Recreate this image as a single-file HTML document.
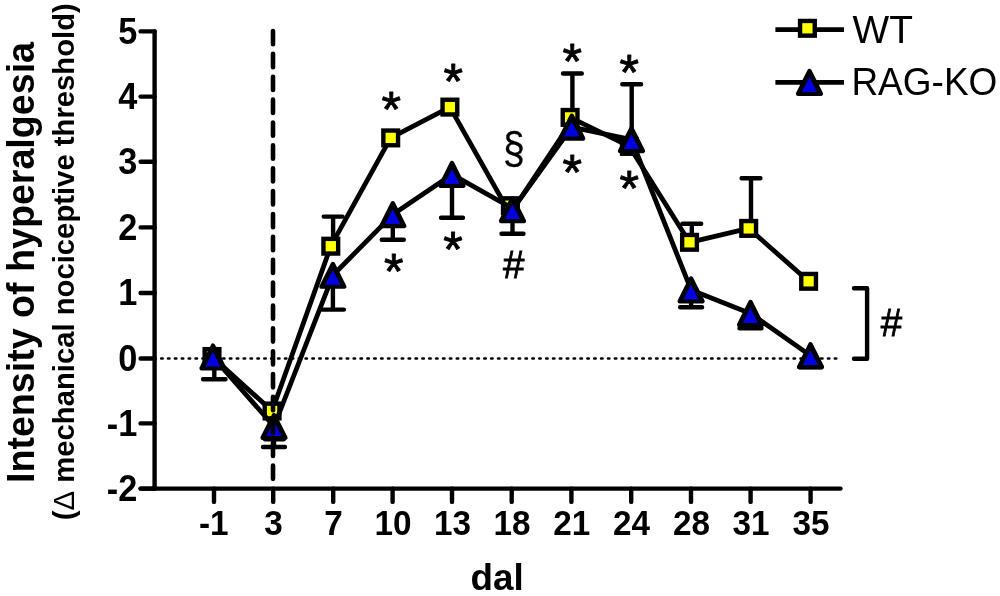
<!DOCTYPE html>
<html lang="en"><head><meta charset="utf-8"><title>Intensity of hyperalgesia</title>
<style>html,body{margin:0;padding:0;background:#fff}body{width:1000px;height:596px;overflow:hidden}svg{display:block}text{font-family:"Liberation Sans",Arial,sans-serif;fill:#000}.b{font-weight:bold}</style>
</head><body>
<svg width="1000" height="596" viewBox="0 0 1000 596">
<rect width="1000" height="596" fill="#fff"/>
<line x1="154.33" y1="358.5" x2="836.5" y2="358.5" stroke="#000" stroke-width="2.6" stroke-linecap="round" stroke-dasharray="1.4 5.474"/>
<g stroke="#000" stroke-width="4.4" stroke-linecap="round" fill="none">
<path d="M154.6 31.4V488.6"/>
<path d="M140.6 488.6H840.5"/>
<path d="M140.6 31.4H154.6"/>
<path d="M140.6 96.6H154.6"/>
<path d="M140.6 161.7H154.6"/>
<path d="M140.6 227.4H154.6"/>
<path d="M140.6 293.0H154.6"/>
<path d="M140.6 358.5H154.6"/>
<path d="M140.6 423.4H154.6"/>
<path d="M140.6 488.6H154.6"/>
<path d="M214 488.6V501.9"/>
<path d="M273.2 488.6V501.9"/>
<path d="M333.2 488.6V501.9"/>
<path d="M392.6 488.6V501.9"/>
<path d="M452.0 488.6V501.9"/>
<path d="M511.7 488.6V501.9"/>
<path d="M571.4 488.6V501.9"/>
<path d="M631.2 488.6V501.9"/>
<path d="M691.0 488.6V501.9"/>
<path d="M750.6 488.6V501.9"/>
<path d="M810.6 488.6V501.9"/>
</g>
<g class="b" font-size="34.3" text-anchor="end">
<text transform="translate(137.3 43.6) scale(1 1.07)">5</text>
<text transform="translate(137.3 108.8) scale(1 1.07)">4</text>
<text transform="translate(137.3 173.9) scale(1 1.07)">3</text>
<text transform="translate(137.3 239.6) scale(1 1.07)">2</text>
<text transform="translate(137.3 305.2) scale(1 1.07)">1</text>
<text transform="translate(137.3 370.7) scale(1 1.07)">0</text>
<text transform="translate(137.3 435.6) scale(1 1.07)">-1</text>
<text transform="translate(137.3 500.8) scale(1 1.07)">-2</text>
</g>
<g class="b" font-size="33.3" text-anchor="middle">
<text transform="translate(213.7 534.7) scale(1 1.07)">-1</text>
<text transform="translate(273.6 534.7) scale(1 1.07)">3</text>
<text transform="translate(333.6 534.7) scale(1 1.07)">7</text>
<text transform="translate(393.0 534.7) scale(1 1.07)">10</text>
<text transform="translate(452.4 534.7) scale(1 1.07)">13</text>
<text transform="translate(512.1 534.7) scale(1 1.07)">18</text>
<text transform="translate(571.8 534.7) scale(1 1.07)">21</text>
<text transform="translate(631.6 534.7) scale(1 1.07)">24</text>
<text transform="translate(691.4 534.7) scale(1 1.07)">28</text>
<text transform="translate(751.0 534.7) scale(1 1.07)">31</text>
<text transform="translate(811.0 534.7) scale(1 1.07)">35</text>
</g>
<text class="b" font-size="36.8" x="470.5" y="590.2">dal</text>
<text class="b" font-size="38" transform="translate(33.8 483) rotate(-90)" textLength="441" lengthAdjust="spacingAndGlyphs">Intensity of hyperalgesia</text>
<text class="b" font-size="29.5" transform="translate(74.2 520.2) rotate(-90)" textLength="517" lengthAdjust="spacingAndGlyphs">(<tspan font-weight="normal">Δ</tspan> mechanical nociceptive threshold)</text>
<g id="wt">
<path d="M214.30 357.80V379.30M203.10 379.30H225.50" fill="none" stroke="#000" stroke-width="4.4" stroke-linecap="round"/>
<path d="M274.40 412.30V439.20M265.00 439.20H283.80" fill="none" stroke="#000" stroke-width="4.4" stroke-linecap="round"/>
<path d="M333.10 247.50V216.60M323.70 216.60H342.50" fill="none" stroke="#000" stroke-width="4.4" stroke-linecap="round"/>
<path d="M572.40 118.70V73.50M563.00 73.50H581.80" fill="none" stroke="#000" stroke-width="4.4" stroke-linecap="round"/>
<path d="M631.70 147.70V84.20M622.30 84.20H641.10" fill="none" stroke="#000" stroke-width="4.4" stroke-linecap="round"/>
<path d="M691.80 243.60V223.70M682.40 223.70H701.20" fill="none" stroke="#000" stroke-width="4.4" stroke-linecap="round"/>
<path d="M751.00 229.70V178.20M741.60 178.20H760.40" fill="none" stroke="#000" stroke-width="4.4" stroke-linecap="round"/>
<path d="M212.00 356.50L272.10 411.00M272.10 411.00L330.80 246.20M330.80 246.20L390.70 137.90M390.70 137.90L449.90 107.10M449.90 107.10L508.00 210.00M512.30 210.50L574.40 117.40M570.10 117.40L629.40 146.40M629.40 146.40L689.50 242.30M689.50 242.30L748.70 228.40M748.70 228.40L808.60 281.30" fill="none" stroke="#000" stroke-width="4.8" stroke-linecap="round"/>
<rect x="204.65" y="349.15" width="14.7" height="14.7" fill="#ffff00" stroke="#000" stroke-width="4.4" stroke-linejoin="miter"/>
<rect x="264.75" y="403.65" width="14.7" height="14.7" fill="#ffff00" stroke="#000" stroke-width="4.4" stroke-linejoin="miter"/>
<rect x="323.45" y="238.85" width="14.7" height="14.7" fill="#ffff00" stroke="#000" stroke-width="4.4" stroke-linejoin="miter"/>
<rect x="383.35" y="130.55" width="14.7" height="14.7" fill="#ffff00" stroke="#000" stroke-width="4.4" stroke-linejoin="miter"/>
<rect x="442.55" y="99.75" width="14.7" height="14.7" fill="#ffff00" stroke="#000" stroke-width="4.4" stroke-linejoin="miter"/>
<rect x="503.05" y="198.35" width="14.7" height="14.7" fill="#ffff00" stroke="#000" stroke-width="4.4" stroke-linejoin="miter"/>
<rect x="562.75" y="110.05" width="14.7" height="14.7" fill="#ffff00" stroke="#000" stroke-width="4.4" stroke-linejoin="miter"/>
<rect x="622.05" y="139.05" width="14.7" height="14.7" fill="#ffff00" stroke="#000" stroke-width="4.4" stroke-linejoin="miter"/>
<rect x="682.15" y="234.95" width="14.7" height="14.7" fill="#ffff00" stroke="#000" stroke-width="4.4" stroke-linejoin="miter"/>
<rect x="741.35" y="221.05" width="14.7" height="14.7" fill="#ffff00" stroke="#000" stroke-width="4.4" stroke-linejoin="miter"/>
<rect x="801.25" y="273.95" width="14.7" height="14.7" fill="#ffff00" stroke="#000" stroke-width="4.4" stroke-linejoin="miter"/>
</g>
<g id="rag">
<path d="M274.00 426.50V447.00M263.00 447.00H285.00" fill="none" stroke="#000" stroke-width="4.4" stroke-linecap="round"/>
<path d="M332.90 275.30V309.60M321.90 309.60H343.90" fill="none" stroke="#000" stroke-width="4.4" stroke-linecap="round"/>
<path d="M392.80 214.60V239.80M381.80 239.80H403.80" fill="none" stroke="#000" stroke-width="4.4" stroke-linecap="round"/>
<path d="M452.00 174.40V217.70M441.00 217.70H463.00" fill="none" stroke="#000" stroke-width="4.4" stroke-linecap="round"/>
<path d="M512.50 209.60V233.70M501.50 233.70H523.50" fill="none" stroke="#000" stroke-width="4.4" stroke-linecap="round"/>
<path d="M691.10 289.90V307.30M680.10 307.30H702.10" fill="none" stroke="#000" stroke-width="4.4" stroke-linecap="round"/>
<path d="M750.50 313.40V328.20M739.50 328.20H761.50" fill="none" stroke="#000" stroke-width="4.4" stroke-linecap="round"/>
<path d="M810.50 355.60V367.30M799.50 367.30H821.50" fill="none" stroke="#000" stroke-width="4.4" stroke-linecap="round"/>
<path d="M213.00 357.00L274.00 426.50M274.00 426.50L332.90 275.30M332.90 275.30L392.80 214.60M392.80 214.60L452.00 174.40M452.00 174.40L511.70 208.00M512.50 209.60L571.80 127.10M571.80 127.10L631.50 139.60M631.50 139.60L691.10 289.90M691.10 289.90L750.50 313.40M750.50 313.40L810.50 355.60" fill="none" stroke="#000" stroke-width="4.8" stroke-linecap="round"/>
<path d="M213.00 345.65L224.40 368.35H201.60Z" fill="#000" stroke="#000" stroke-width="4.4" stroke-linejoin="round"/><path d="M212.90 351.70L220.50 366.50H205.30Z" fill="#0000e0"/>
<path d="M274.00 415.15L285.40 437.85H262.60Z" fill="#000" stroke="#000" stroke-width="4.4" stroke-linejoin="round"/><path d="M273.90 421.20L281.50 436.00H266.30Z" fill="#0000e0"/>
<path d="M332.90 263.95L344.30 286.65H321.50Z" fill="#000" stroke="#000" stroke-width="4.4" stroke-linejoin="round"/><path d="M332.80 270.00L340.40 284.80H325.20Z" fill="#0000e0"/>
<path d="M392.80 203.25L404.20 225.95H381.40Z" fill="#000" stroke="#000" stroke-width="4.4" stroke-linejoin="round"/><path d="M392.70 209.30L400.30 224.10H385.10Z" fill="#0000e0"/>
<path d="M452.00 163.05L463.40 185.75H440.60Z" fill="#000" stroke="#000" stroke-width="4.4" stroke-linejoin="round"/><path d="M451.90 169.10L459.50 183.90H444.30Z" fill="#0000e0"/>
<path d="M512.50 198.25L523.90 220.95H501.10Z" fill="#000" stroke="#000" stroke-width="4.4" stroke-linejoin="round"/><path d="M512.40 204.30L520.00 219.10H504.80Z" fill="#0000e0"/>
<path d="M571.80 115.75L583.20 138.45H560.40Z" fill="#000" stroke="#000" stroke-width="4.4" stroke-linejoin="round"/><path d="M571.70 121.80L579.30 136.60H564.10Z" fill="#0000e0"/>
<path d="M631.50 128.25L642.90 150.95H620.10Z" fill="#000" stroke="#000" stroke-width="4.4" stroke-linejoin="round"/><path d="M631.40 134.30L639.00 149.10H623.80Z" fill="#0000e0"/>
<path d="M691.10 278.55L702.50 301.25H679.70Z" fill="#000" stroke="#000" stroke-width="4.4" stroke-linejoin="round"/><path d="M691.00 284.60L698.60 299.40H683.40Z" fill="#0000e0"/>
<path d="M750.50 302.05L761.90 324.75H739.10Z" fill="#000" stroke="#000" stroke-width="4.4" stroke-linejoin="round"/><path d="M750.40 308.10L758.00 322.90H742.80Z" fill="#0000e0"/>
<path d="M810.50 344.25L821.90 366.95H799.10Z" fill="#000" stroke="#000" stroke-width="4.4" stroke-linejoin="round"/><path d="M810.40 350.30L818.00 365.10H802.80Z" fill="#0000e0"/>
</g>
<line x1="273" y1="31" x2="273" y2="484" stroke="#000" stroke-width="4.6" stroke-linecap="round" stroke-dasharray="13.3 9.57"/>
<text font-size="50" x="381.6" y="126.7" stroke="#000" stroke-width="0.9" stroke-linejoin="round">*</text>
<text font-size="50" x="443.4" y="98.9" stroke="#000" stroke-width="0.9" stroke-linejoin="round">*</text>
<text font-size="50" x="562.5" y="78.7" stroke="#000" stroke-width="0.9" stroke-linejoin="round">*</text>
<text font-size="50" x="619.5" y="89.6" stroke="#000" stroke-width="0.9" stroke-linejoin="round">*</text>
<text font-size="50" x="384.1" y="289.0" stroke="#000" stroke-width="0.9" stroke-linejoin="round">*</text>
<text font-size="50" x="443.2" y="267.1" stroke="#000" stroke-width="0.9" stroke-linejoin="round">*</text>
<text font-size="50" x="562.5" y="190.1" stroke="#000" stroke-width="0.9" stroke-linejoin="round">*</text>
<text font-size="50" x="619.5" y="206.0" stroke="#000" stroke-width="0.9" stroke-linejoin="round">*</text>
<text font-size="38.5" x="503" y="277.6" stroke="#000" stroke-width="0.8">#</text>
<text font-size="38.5" x="880.8" y="336.2" stroke="#000" stroke-width="0.8">#</text>
<text font-size="43.5" transform="translate(503.0 163.2) scale(0.9 1)" stroke="#000" stroke-width="0.3">§</text>
<path d="M854 288.2H867.1V358.8H854" fill="none" stroke="#000" stroke-width="4.4" stroke-linecap="round" stroke-linejoin="round"/>
<path d="M775.4 29.6H844M775.4 82.4H844" stroke="#000" stroke-width="4.9" fill="none"/>
<rect x="800.05" y="20.95" width="14.7" height="14.7" fill="#ffff00" stroke="#000" stroke-width="4.4" stroke-linejoin="miter"/>
<path d="M809.50 71.05L820.90 93.75H798.10Z" fill="#000" stroke="#000" stroke-width="4.4" stroke-linejoin="round"/><path d="M809.40 77.10L817.00 91.90H801.80Z" fill="#0000e0"/>
<text font-size="39" x="852.6" y="43.2" textLength="60.4" lengthAdjust="spacingAndGlyphs">WT</text>
<text font-size="38" x="851.4" y="95.2" textLength="146" lengthAdjust="spacingAndGlyphs">RAG-KO</text>
</svg></body></html>
